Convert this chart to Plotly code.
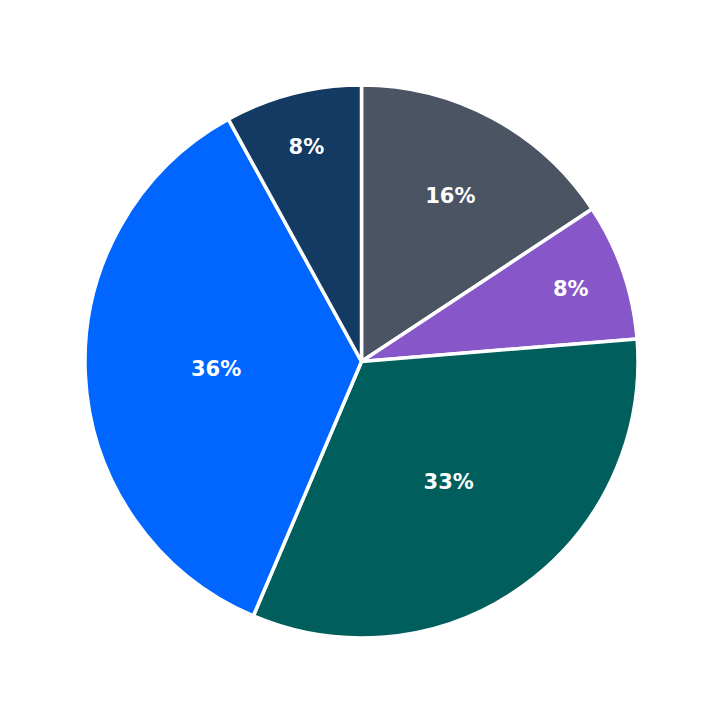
import plotly.graph_objects as go

labels = ["A", "B", "C", "D", "E"]
values = [15.7, 8.0, 32.7, 35.6, 8.0]
colors = ["#4a5462", "#8757c9", "#005f5c", "#0066ff", "#133a63"]

fig = go.Figure(go.Pie(
    labels=labels, values=values, sort=False, direction="clockwise", rotation=0,
    marker=dict(colors=colors, line=dict(color="white", width=3.5)),
    textinfo="percent", texttemplate="%{percent:.0%}", textposition="inside",
    insidetextorientation="horizontal",
    textfont=dict(family="DejaVu Sans", size=21, color="white", weight="bold"),
    hoverinfo="label+percent",
))
fig.update_layout(width=723, height=723, showlegend=False,
                  margin=dict(l=77, r=93, t=77, b=93),
                  paper_bgcolor="white", plot_bgcolor="white")
fig.write_html("out.html")
